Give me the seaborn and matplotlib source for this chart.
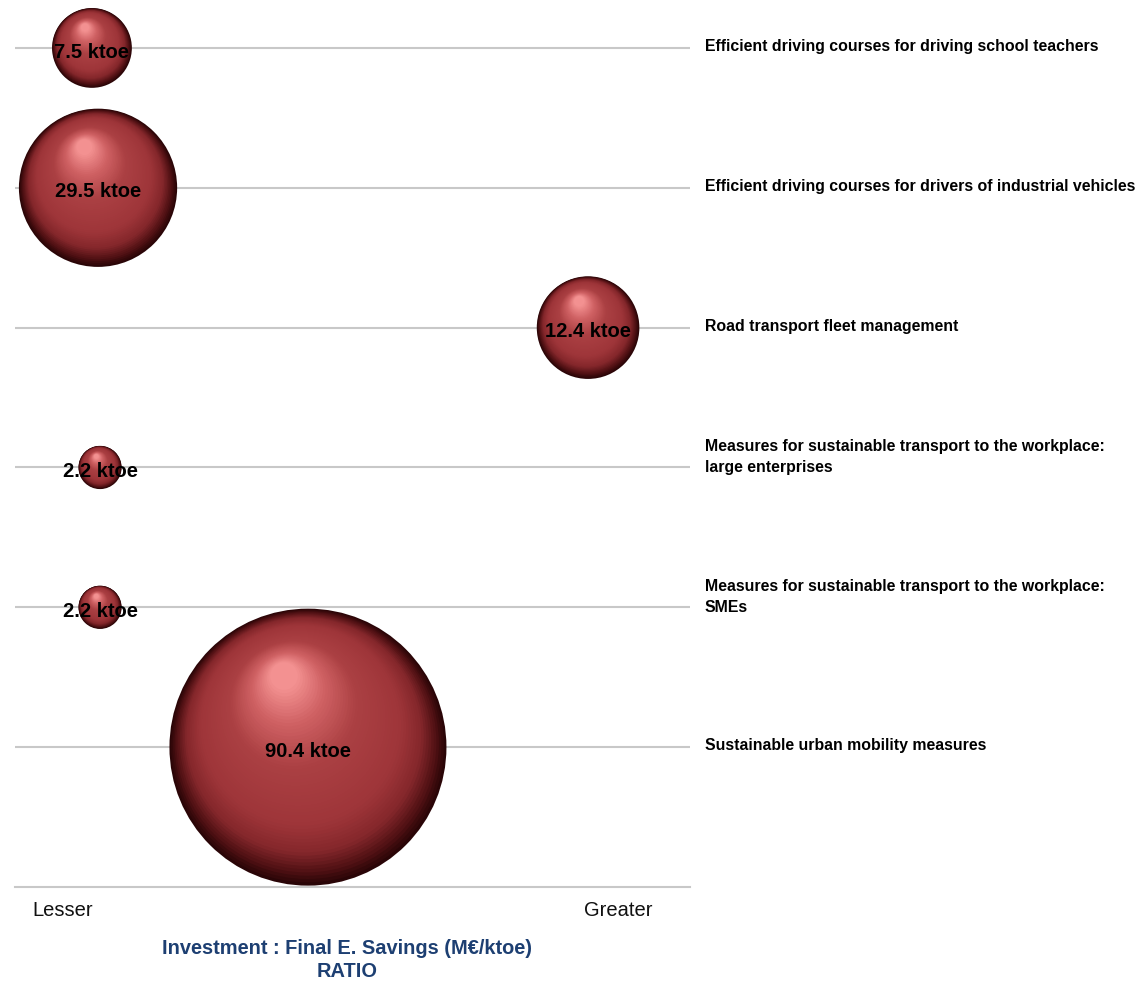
import numpy as np
import pandas as pd
import matplotlib
matplotlib.use("Agg")
import matplotlib.pyplot as plt
from matplotlib.colors import LinearSegmentedColormap
from matplotlib.transforms import ScaledTranslation, blended_transform_factory
import seaborn as sns


# ------------------------------#
# 0. Data
# ------------------------------#
measures = [
    "Efficient driving courses for driving school teachers",
    "Efficient driving courses for drivers of industrial vehicles",
    "Road transport fleet management",
    "Measures for sustainable transport to the workplace:\nlarge enterprises",
    "Measures for sustainable transport to the workplace:\nSMEs",
    "Sustainable urban mobility measures",
]
# investment : final energy savings ratio, on a 0-100 "lesser -> greater" scale
ratio = [11.4, 12.3, 84.9, 12.6, 12.6, 43.4]
# final energy savings (ktoe) -> bubble area
savings = [7.5, 29.5, 12.4, 2.2, 2.2, 90.4]

xtick_pos = [7.0, 89.3]
xtick_labels = ["Lesser", "Greater"]
xlabel = "Investment : Final E. Savings (M€/ktoe)\nRATIO"

df = pd.DataFrame({
    "measure": measures,
    "ratio": ratio,
    "savings": savings,
    "row": np.arange(len(measures)),
})


# ------------------------------#
# 1. Figure
# ------------------------------#
sns.set_style("white")
plt.rcParams["font.family"] = ["Liberation Sans", "DejaVu Sans"]

fig = plt.figure(figsize=(11.45, 9.83), dpi=100)
ax = fig.add_axes([15 / 1145, 96 / 983, 675 / 1145, 887 / 983])

AREA_PER_KTOE = 440  # points^2 per ktoe
s_max = AREA_PER_KTOE * max(savings)

# row guide lines
for r in df["row"]:
    ax.axhline(r, color="#c8c8c8", lw=1.5, zorder=0)

# base (dark edge) bubble
sns.scatterplot(
    data=df, x="ratio", y="row", size="savings",
    sizes=(0, s_max), size_norm=(0, max(savings)),
    color="#2a0507", edgecolor="none", legend=False,
    ax=ax, zorder=2, clip_on=False,
)

# fake sphere shading: stacked, shrinking discs pushed to the upper left
shade = LinearSegmentedColormap.from_list(
    "sphere",
    [(0.0, "#2a0507"), (0.06, "#4f1013"), (0.16, "#84272b"),
     (0.3, "#9e3539"), (0.6, "#ab4043"), (0.82, "#d06264"),
     (1.0, "#f39191")],
)
hl_dir = np.array([-0.32, 0.95])
n_layers = 60
for i, t in enumerate(np.linspace(0, 1, n_layers)[1:]):
    scale = 1 - 0.9 * t
    for _, row in df.iterrows():
        s = AREA_PER_KTOE * row["savings"]
        rad = np.sqrt(s) / 2  # points
        dx, dy = (1 - scale) * 0.6 * rad * hl_dir
        off = ScaledTranslation(dx / 72, dy / 72, fig.dpi_scale_trans)
        ax.scatter(
            row["ratio"], row["row"], s=s * scale ** 2,
            color=shade(t), edgecolor="none",
            transform=ax.transData + off, zorder=3 + i * 0.01, clip_on=False,
        )

# bubble labels
for _, row in df.iterrows():
    ax.annotate(
        f"{row['savings']} ktoe", (row["ratio"], row["row"]),
        xytext=(0, -3), textcoords="offset points",
        ha="center", va="center", fontsize=14.5, fontweight="bold",
        color="black", zorder=10,
    )

# measure labels to the right
trans = blended_transform_factory(ax.transAxes, ax.transData)
for _, row in df.iterrows():
    lift = 7.5 if "\n" in row["measure"] else 1
    ax.annotate(
        row["measure"], (1.022, row["row"]), xycoords=trans,
        xytext=(0, lift), textcoords="offset points",
        ha="left", va="center", fontsize=11.4, fontweight="bold",
        color="black", linespacing=1.5, annotation_clip=False,
    )

ax.set_xlim(0, 100)
ax.set_ylim(6, -48 / 140)
ax.set_yticks([])
ax.set_xticks(xtick_pos)
ax.set_xticklabels(xtick_labels, fontsize=14.5, color="#111111")
ax.tick_params(axis="x", length=0, pad=10)
ax.set_xlabel(xlabel, fontsize=14.4, fontweight="bold", color="#1d3f72",
              labelpad=14, linespacing=1.25)
ax.xaxis.label.set_x(0.492)
ax.set_ylabel("")

for side in ["top", "left", "right"]:
    ax.spines[side].set_visible(False)
ax.spines["bottom"].set_color("#c8c8c8")
ax.spines["bottom"].set_linewidth(1.5)

fig.savefig("out.png", dpi=100)
